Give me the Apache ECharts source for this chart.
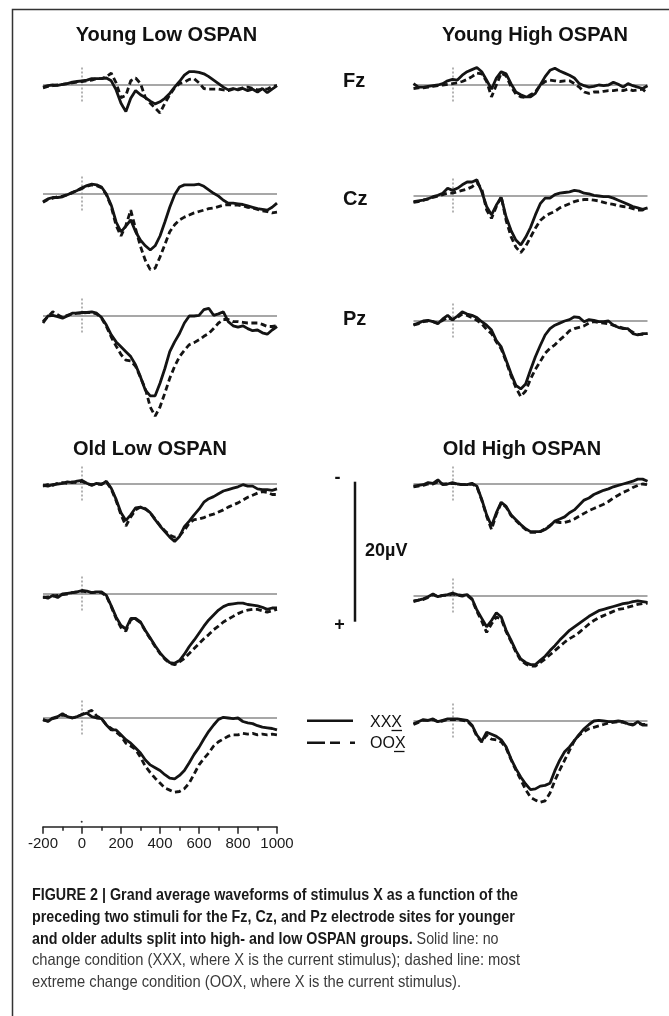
<!DOCTYPE html>
<html><head><meta charset="utf-8">
<script src="https://cdn.jsdelivr.net/npm/echarts@6/dist/echarts.min.js"></script>
<style>html,body{margin:0;padding:0;background:#fff}#c{width:669px;height:1016px}</style>
</head><body><div id="c"></div>
<script>
// ---------- DATA ----------
const TIMES = [-200,-175,-150,-125,-100,-75,-50,-25,0,25,50,75,100,125,150,175,200,225,250,275,300,325,350,375,400,425,450,475,500,525,550,575,600,625,650,675,700,725,750,775,800,825,850,875,900,925,950,975,1000];
const X_TICKS = [-200,0,200,400,600,800,1000];
const BASELINE_UV = 0;
const STIM_ONSET_MS = 0;
const STIM_MARK_UV = [-2.5, 2.5];
const SCALE_BAR_UV = 20;

const youngLowFz_XXX = [0.3,0.1,0.0,0.05,-0.1,-0.2,-0.4,-0.5,-0.6,-0.7,-0.9,-0.9,-0.9,-1.0,-0.6,0.7,2.6,3.8,1.9,0.8,1.4,1.8,2.3,2.7,2.4,1.9,1.2,0.3,-0.5,-1.4,-1.9,-1.9,-1.8,-1.6,-1.2,-0.7,-0.2,0.3,0.7,0.5,0.7,0.5,0.8,0.6,1.0,0.5,1.1,0.6,0.1];
const youngLowFz_OOX = [0.4,0.2,0.1,0.0,-0.1,-0.2,-0.3,-0.4,-0.5,-0.6,-0.7,-0.9,-0.9,-1.2,-1.7,-0.3,1.8,1.5,-0.6,-1.0,-0.2,1.8,2.6,3.3,4.0,2.6,1.4,0.4,-0.2,-0.4,-0.8,-0.9,-0.3,0.5,0.6,0.6,0.6,0.7,0.8,0.6,0.6,0.4,0.3,0.5,0.7,0.6,0.6,0.2,0.1];
const youngLowCz_XXX = [1.1,0.7,0.5,0.5,0.4,0.1,-0.2,-0.5,-0.9,-1.2,-1.4,-1.3,-1.0,0.0,1.6,4.0,5.4,4.6,3.7,5.4,6.6,7.4,8.0,7.4,6.0,4.0,1.9,0.1,-1.0,-1.3,-1.3,-1.3,-1.4,-1.1,-0.6,-0.1,0.3,0.9,1.3,1.3,1.4,1.5,1.7,1.9,2.1,2.2,2.3,1.9,1.3];
const youngLowCz_OOX = [1.2,0.8,0.6,0.4,0.3,0.1,-0.2,-0.5,-0.8,-1.1,-1.3,-1.2,-0.9,0.1,1.8,4.5,6.0,4.5,2.3,5.0,7.5,9.5,10.8,10.6,9.0,7.2,5.4,4.4,3.7,3.3,3.0,2.7,2.5,2.3,2.1,2.0,1.8,1.6,1.5,1.6,1.6,1.7,1.9,2.0,2.2,2.4,2.5,2.7,2.6];
const youngLowPz_XXX = [1.0,0.0,-0.1,0.1,0.3,0.0,-0.4,-0.4,-0.5,-0.5,-0.6,-0.4,0.2,1.3,2.7,3.7,4.4,5.1,5.8,7.0,8.7,10.6,11.4,11.4,9.6,7.5,5.1,3.7,2.5,1.0,0.0,0.0,-0.1,-0.9,-1.1,-0.1,-0.3,-0.6,0.8,1.4,1.6,1.4,1.8,2.1,2.0,2.4,2.6,2.0,1.5];
const youngLowPz_OOX = [0.8,0.1,-0.6,-0.2,0.2,-0.1,-0.3,-0.4,-0.4,-0.5,-0.5,-0.3,0.3,1.5,3.0,4.3,5.5,6.3,6.4,7.2,8.8,10.4,13.0,14.3,13.0,11.0,8.9,7.2,5.8,4.9,4.1,3.8,3.4,2.9,2.5,1.8,1.0,0.5,0.5,0.8,0.8,0.9,1.0,1.0,1.0,1.2,1.5,1.5,1.4];
const youngHighFz_XXX = [-0.2,0.3,0.3,0.2,0.1,0.0,-0.2,-0.6,-0.8,-0.7,-1.4,-1.9,-2.2,-2.5,-1.9,-0.7,0.6,-1.0,-1.9,-1.6,-0.2,1.0,1.4,1.7,1.7,1.2,0.0,-1.2,-2.1,-2.4,-2.0,-1.7,-1.4,-1.0,-0.2,0.1,0.3,0.2,0.0,0.1,0.0,-0.4,-0.1,0.3,-0.2,0.1,0.3,0.5,0.1];
const youngHighFz_OOX = [0.5,0.4,0.4,0.3,0.2,0.1,0.0,-0.1,-0.2,-0.3,-0.5,-0.8,-1.2,-1.7,-1.6,-0.5,1.7,0.0,-1.7,-1.3,0.2,1.3,1.7,1.8,1.4,1.0,0.0,-0.5,-0.7,-0.6,-0.5,-0.6,-0.6,-0.2,0.3,1.0,1.2,1.0,1.0,0.9,0.8,0.8,0.7,0.8,0.6,0.8,0.7,0.6,1.2];
const youngHighCz_XXX = [0.8,0.7,0.6,0.4,0.1,-0.1,-0.4,-1.1,-0.8,-1.1,-1.6,-2.0,-2.0,-2.3,-0.6,1.5,2.7,1.3,0.2,3.0,4.9,6.3,7.0,5.9,4.5,2.7,1.1,0.3,0.3,-0.2,-0.4,-0.5,-0.6,-0.8,-0.7,-0.4,-0.3,-0.1,0.0,0.1,0.1,0.3,0.6,0.9,1.2,1.5,1.7,1.9,1.7];
const youngHighCz_OOX = [0.9,0.8,0.6,0.4,0.2,0.0,-0.2,-0.4,-0.4,-0.6,-0.8,-1.0,-1.3,-1.9,-1.0,2.0,3.2,1.5,0.1,3.5,5.8,7.3,8.1,7.2,5.9,4.6,3.5,2.9,2.5,2.2,1.7,1.4,1.1,0.8,0.6,0.5,0.5,0.6,0.7,0.9,1.1,1.2,1.4,1.5,1.6,1.8,2.0,2.0,1.8];
const youngHighPz_XXX = [0.6,0.3,0.0,-0.1,0.1,0.4,-0.3,-0.8,-0.2,-0.7,-1.3,-1.0,-0.8,-0.5,0.1,0.6,1.3,2.8,3.7,5.6,7.5,9.2,9.7,9.0,7.0,5.1,3.5,2.0,1.1,0.6,0.3,0.0,-0.2,-0.6,-0.5,0.1,-0.2,-0.1,0.1,0.1,0.0,0.6,0.9,1.1,1.1,1.8,2.0,1.8,1.8];
const youngHighPz_OOX = [0.5,0.4,0.1,0.0,0.1,0.3,-0.1,-0.5,-0.2,-0.5,-1.0,-0.8,-0.5,-0.1,0.4,1.2,1.8,3.0,4.0,5.8,7.8,9.5,10.8,10.0,8.3,6.9,5.8,4.6,3.9,3.4,2.7,2.1,1.4,1.1,0.9,0.7,0.3,0.1,0.2,0.3,0.4,0.6,0.8,1.0,1.2,1.6,1.9,1.9,1.8];
const oldLowFz_XXX = [0.2,0.3,0.1,0.0,-0.1,-0.3,-0.2,-0.4,-0.5,-0.1,0.2,-0.1,0.1,-0.4,0.6,2.2,4.1,5.2,4.4,3.4,3.3,3.6,4.1,5.1,6.0,6.8,7.6,8.2,7.5,6.1,5.3,4.4,3.6,2.6,2.1,1.8,1.4,1.0,0.8,0.6,0.4,0.1,0.3,0.3,0.7,0.8,0.8,0.9,0.7];
const oldLowFz_OOX = [0.3,0.1,0.2,-0.1,-0.2,-0.1,-0.3,-0.2,-0.4,0.0,0.1,0.0,0.0,-0.3,0.7,2.4,4.4,6.0,4.7,3.7,3.3,3.5,4.1,5.0,5.9,6.7,7.3,7.6,7.4,6.6,5.6,5.1,5.0,4.8,4.5,4.3,4.0,3.7,3.3,3.0,2.7,2.3,1.9,1.6,1.3,1.1,1.2,1.5,1.5];
const oldLowCz_XXX = [0.4,0.6,0.2,0.5,0.0,-0.1,-0.2,-0.3,-0.5,-0.4,-0.2,-0.3,-0.3,0.2,1.7,3.3,4.5,5.0,3.5,3.5,4.0,5.2,6.3,7.4,8.4,9.2,9.8,9.9,9.5,8.6,7.5,6.6,5.6,4.6,3.7,3.0,2.3,1.8,1.5,1.4,1.3,1.3,1.5,1.6,1.7,1.9,2.2,2.0,2.0];
const oldLowCz_OOX = [0.5,0.4,0.3,0.2,0.1,0.0,-0.2,-0.3,-0.4,-0.3,-0.2,-0.3,-0.2,0.3,1.8,3.5,4.8,5.3,3.7,3.6,4.1,5.3,6.4,7.5,8.5,9.3,9.9,10.1,9.7,9.2,8.5,7.8,7.1,6.4,5.8,5.1,4.6,4.0,3.6,3.2,2.8,2.5,2.3,2.2,2.2,2.4,2.6,2.4,2.2];
const oldLowPz_XXX = [0.2,0.5,0.0,-0.2,-0.6,-0.2,0.0,-0.2,-0.5,-0.7,-0.2,0.0,0.1,1.0,1.7,1.7,2.4,3.1,3.6,4.3,5.0,6.0,6.7,7.1,7.5,8.1,8.6,8.7,8.2,7.5,6.4,5.2,4.2,3.0,1.9,1.0,0.2,-0.1,0.0,0.1,0.0,0.5,0.7,0.8,1.1,1.3,1.4,1.5,1.7];
const oldLowPz_OOX = [0.3,0.4,0.1,-0.1,-0.4,-0.3,0.0,-0.2,-0.5,-0.8,-1.1,-0.3,0.1,1.0,1.5,2.0,2.6,3.6,4.0,4.5,5.6,6.9,7.8,8.6,9.3,10.0,10.3,10.6,10.5,10.1,9.3,8.0,6.7,5.8,5.0,4.0,3.4,3.0,2.6,2.4,2.4,2.2,2.3,2.2,2.4,2.3,2.4,2.3,2.4];
const oldHighFz_XXX = [0.3,0.2,0.1,-0.2,-0.1,-0.6,0.1,0.0,-0.2,0.0,0.1,0.1,-0.1,0.3,2.2,4.4,6.0,4.1,2.6,3.2,4.4,5.1,5.8,6.4,6.8,6.8,6.8,6.5,6.0,5.3,5.0,4.7,4.1,3.7,3.0,2.3,2.0,1.5,1.2,0.9,0.7,0.4,0.2,0.0,-0.2,-0.4,-0.7,-0.7,-0.4];
const oldHighFz_OOX = [0.4,0.3,0.2,0.0,0.0,-0.3,0.0,0.0,-0.1,0.0,0.1,0.1,0.0,0.4,2.3,4.6,6.5,4.3,2.7,3.3,4.5,5.2,5.9,6.5,6.9,6.9,6.8,6.4,5.9,5.4,5.5,5.5,5.3,5.0,4.6,4.2,3.8,3.5,3.2,2.9,2.5,2.0,1.6,1.2,0.9,0.5,0.2,0.0,0.1];
const oldHighCz_XXX = [0.7,0.6,0.4,0.1,-0.3,0.1,-0.1,-0.2,-0.4,-0.2,-0.1,-0.2,0.4,2.0,3.2,4.4,3.5,2.4,3.0,4.9,6.3,7.8,9.0,9.5,9.8,9.8,9.2,8.6,7.8,7.1,6.3,5.6,4.9,4.4,3.9,3.4,2.9,2.5,2.1,1.9,1.7,1.5,1.3,1.1,1.0,0.8,0.7,0.8,0.9];
const oldHighCz_OOX = [0.8,0.6,0.5,0.2,-0.2,0.1,-0.1,-0.1,-0.3,-0.1,0.0,-0.1,0.5,2.2,3.6,5.2,4.0,3.0,3.3,5.1,6.5,8.0,9.2,9.7,10.0,10.0,9.5,9.0,8.4,7.8,7.2,6.6,6.1,5.7,5.2,4.6,4.0,3.5,3.1,2.8,2.5,2.2,1.9,1.8,1.6,1.4,1.2,1.1,1.0];
const oldHighPz_XXX = [0.4,0.1,-0.2,-0.1,-0.3,0.1,-0.1,-0.3,-0.3,-0.3,-0.2,-0.1,0.6,2.0,2.9,1.6,1.9,2.2,2.7,3.7,5.4,6.8,8.0,9.0,9.8,9.7,9.3,9.2,8.9,7.1,5.6,4.4,3.7,2.8,1.9,1.1,0.5,0.0,-0.1,0.0,0.1,0.1,0.0,0.1,0.4,0.6,0.1,0.6,0.6];
const oldHighPz_OOX = [0.5,0.2,-0.1,-0.1,-0.2,0.1,0.0,-0.2,-0.2,-0.2,-0.1,0.0,0.7,2.2,3.0,2.0,2.6,2.7,3.0,3.9,5.5,7.0,8.4,9.8,10.9,11.3,11.6,11.4,10.3,8.5,7.0,5.6,4.2,2.8,2.0,1.5,1.1,0.9,0.7,0.5,0.3,0.2,0.1,0.2,0.4,0.5,0.3,0.5,0.5];

const GROUP_TITLES = ['Young Low OSPAN','Young High OSPAN','Old Low OSPAN','Old High OSPAN'];
const SITES = ['Fz','Cz','Pz'];
const LEGEND_LABELS = ['XXX','OOX'];
const CAPTION_LINES = [
  {b:'FIGURE 2 | Grand average waveforms of stimulus X as a function of the', r:''},
  {b:'preceding two stimuli for the Fz, Cz, and Pz electrode sites for younger', r:''},
  {b:'and older adults split into high- and low OSPAN groups.', r:' Solid line: no'},
  {b:'', r:'change condition (XXX, where X is the current stimulus); dashed line: most'},
  {b:'', r:'extreme change condition (OOX, where X is the current stimulus).'}
];

// ---------- LAYOUT ----------
const panels = [
  {xxx: youngLowFz_XXX,  oox: youngLowFz_OOX,  col: 0, base: 85},
  {xxx: youngLowCz_XXX,  oox: youngLowCz_OOX,  col: 0, base: 194},
  {xxx: youngLowPz_XXX,  oox: youngLowPz_OOX,  col: 0, base: 316},
  {xxx: youngHighFz_XXX, oox: youngHighFz_OOX, col: 1, base: 85},
  {xxx: youngHighCz_XXX, oox: youngHighCz_OOX, col: 1, base: 196},
  {xxx: youngHighPz_XXX, oox: youngHighPz_OOX, col: 1, base: 321},
  {xxx: oldLowFz_XXX,    oox: oldLowFz_OOX,    col: 0, base: 484},
  {xxx: oldLowCz_XXX,    oox: oldLowCz_OOX,    col: 0, base: 594},
  {xxx: oldLowPz_XXX,    oox: oldLowPz_OOX,    col: 0, base: 718},
  {xxx: oldHighFz_XXX,   oox: oldHighFz_OOX,   col: 1, base: 484},
  {xxx: oldHighCz_XXX,   oox: oldHighCz_OOX,   col: 1, base: 596},
  {xxx: oldHighPz_XXX,   oox: oldHighPz_OOX,   col: 1, base: 721}
];
const COL_LEFT = [43, 413.5];
const PLOT_W = 234;
const PX_PER_UV = 7;
const Y_MIN = -6, Y_MAX = 16;
const FONT = "'Liberation Sans', Arial, Helvetica, sans-serif";
const INK = '#141414';

const grid = [], xAxis = [], yAxis = [], series = [];
panels.forEach((p, i) => {
  grid.push({left: COL_LEFT[p.col], width: PLOT_W, top: p.base + Y_MIN * PX_PER_UV, height: (Y_MAX - Y_MIN) * PX_PER_UV});
  xAxis.push({gridIndex: i, type: 'value', min: -200, max: 1000, show: false});
  yAxis.push({gridIndex: i, type: 'value', min: Y_MIN, max: Y_MAX, inverse: true, show: false});
  const pts = arr => TIMES.map((t, k) => [t, arr[k]]);
  series.push({
    type: 'line', xAxisIndex: i, yAxisIndex: i, data: pts(p.xxx), showSymbol: false, silent: true, clip: false,
    lineStyle: {color: INK, width: 2.8}, z: 3,
    markLine: {
      silent: true, symbol: 'none', z: 1, animation: false, label: {show: false},
      data: [
        {yAxis: BASELINE_UV, lineStyle: {color: '#8a8a8a', width: 1.5, type: 'solid'}},
        [{coord: [STIM_ONSET_MS, STIM_MARK_UV[0]], lineStyle: {color: '#9a9a9a', width: 1.5, type: [2, 2]}},
         {coord: [STIM_ONSET_MS, STIM_MARK_UV[1]]}]
      ]
    }
  });
  series.push({
    type: 'line', xAxisIndex: i, yAxisIndex: i, data: pts(p.oox), showSymbol: false, silent: true, clip: false,
    lineStyle: {color: INK, width: 2.8, type: [6, 3.5]}, z: 2
  });
});

// bottom time axis
const ai = panels.length;
grid.push({left: COL_LEFT[0], width: PLOT_W, top: 780, height: 46.7});
xAxis.push({gridIndex: ai, type: 'value', min: X_TICKS[0], max: X_TICKS[X_TICKS.length - 1], interval: 200, position: 'bottom',
  axisLine: {show: true, onZero: false, lineStyle: {color: '#222', width: 1.5}},
  axisTick: {show: true, length: 7, lineStyle: {color: '#222', width: 1.5}},
  minorTick: {show: true, splitNumber: 2, length: 4, lineStyle: {color: '#222', width: 1.5}},
  splitLine: {show: false}, minorSplitLine: {show: false},
  axisLabel: {fontSize: 15, color: '#1a1a1a', margin: 10, fontFamily: FONT,
    showMinLabel: true, showMaxLabel: true, formatter: v => String(v)}
});
yAxis.push({gridIndex: ai, type: 'value', min: 0, max: 1, show: false});

// ---------- GRAPHICS ----------
const g = [];
g.push({type: 'polyline', shape: {points: [[12.5, 1016], [12.5, 9.5], [669, 9.5]]}, style: {stroke: '#333', lineWidth: 1.5, fill: null}, silent: true});
const titleStyle = {fontSize: 20, fontWeight: 'bold', fontFamily: FONT, fill: '#111', textAlign: 'center', textVerticalAlign: 'middle'};
[[166.5, 35.5], [535, 35.5], [150, 449], [522, 449]].forEach((pos, k) => {
  g.push({type: 'text', x: pos[0], y: pos[1], style: Object.assign({text: GROUP_TITLES[k]}, titleStyle), silent: true});
});
[[343, 81], [343, 199.5], [343, 319.5]].forEach((pos, k) => {
  g.push({type: 'text', x: pos[0], y: pos[1], style: {text: SITES[k], fontSize: 20, fontWeight: 'bold', fontFamily: FONT, fill: '#111', textAlign: 'left', textVerticalAlign: 'middle'}, silent: true});
});
// small onset mark above the time axis
g.push({type: 'circle', shape: {cx: 81.7, cy: 821.7, r: 1}, style: {fill: '#333'}, silent: true});
// scale bar
g.push({type: 'line', shape: {x1: 355, y1: 481.7, x2: 355, y2: 481.7 + SCALE_BAR_UV * PX_PER_UV}, style: {stroke: INK, lineWidth: 2.5}, silent: true});
g.push({type: 'text', x: 337.5, y: 478.5, style: {text: '-', fontSize: 18, fontWeight: 'bold', fontFamily: FONT, fill: '#111', textAlign: 'center', textVerticalAlign: 'middle'}, silent: true});
g.push({type: 'text', x: 339.5, y: 625.5, style: {text: '+', fontSize: 18, fontWeight: 'bold', fontFamily: FONT, fill: '#111', textAlign: 'center', textVerticalAlign: 'middle'}, silent: true});
g.push({type: 'text', x: 365, y: 551.5, style: {text: SCALE_BAR_UV + 'µV', fontSize: 18, fontWeight: 'bold', fontFamily: FONT, fill: '#111', textAlign: 'left', textVerticalAlign: 'middle'}, silent: true});
// legend
g.push({type: 'line', shape: {x1: 307, y1: 720.7, x2: 353, y2: 720.7}, style: {stroke: INK, lineWidth: 2.5}, silent: true});
g.push({type: 'line', shape: {x1: 307, y1: 742.7, x2: 355, y2: 742.7}, style: {stroke: INK, lineWidth: 2.5, lineDash: [18, 5, 10, 10]}, silent: true});
g.push({type: 'text', x: 370, y: 722.5, style: {text: LEGEND_LABELS[0], fontSize: 16, fontFamily: FONT, fill: '#111', textAlign: 'left', textVerticalAlign: 'middle'}, silent: true});
g.push({type: 'text', x: 370, y: 743.5, style: {text: LEGEND_LABELS[1], fontSize: 16, fontFamily: FONT, fill: '#111', textAlign: 'left', textVerticalAlign: 'middle'}, silent: true});
g.push({type: 'line', shape: {x1: 391.5, y1: 730.5, x2: 402, y2: 730.5}, style: {stroke: '#111', lineWidth: 1.3}, silent: true});
g.push({type: 'line', shape: {x1: 394, y1: 751.5, x2: 404.5, y2: 751.5}, style: {stroke: '#111', lineWidth: 1.3}, silent: true});

// caption (condensed by horizontal scaling of Liberation Sans)
const CAP_FS = 16.5;
const mctx = document.createElement('canvas').getContext('2d');
mctx.font = 'bold ' + CAP_FS + 'px ' + FONT;
const boldW = mctx.measureText(CAPTION_LINES[0].b).width;
mctx.font = 'normal ' + CAP_FS + 'px ' + FONT;
const regW = mctx.measureText(CAPTION_LINES[3].r).width;
const SX_BOLD = 486 / boldW;
const SX_REG = 488 / regW;
const capY = [895, 917, 939, 960.5, 982];
CAPTION_LINES.forEach((ln, k) => {
  let txt = '';
  if (ln.b) txt += '{b|' + ln.b + '}';
  if (ln.r) txt += '{r|' + ln.r + '}';
  const sx = ln.b ? SX_BOLD : SX_REG;
  g.push({type: 'text', x: 32, y: capY[k], scaleX: sx, silent: true, style: {
    text: txt, textAlign: 'left', textVerticalAlign: 'middle',
    rich: {
      b: {fontSize: CAP_FS, fontWeight: 'bold', fontFamily: FONT, fill: '#1a1a1a'},
      r: {fontSize: CAP_FS, fontWeight: 'normal', fontFamily: FONT, fill: '#3a3a3a'}
    }
  }});
});

const chart = echarts.init(document.getElementById('c'), null, {renderer: 'canvas'});
chart.setOption({animation: false, backgroundColor: '#fff', grid, xAxis, yAxis, series, graphic: {elements: g}});
</script></body></html>
